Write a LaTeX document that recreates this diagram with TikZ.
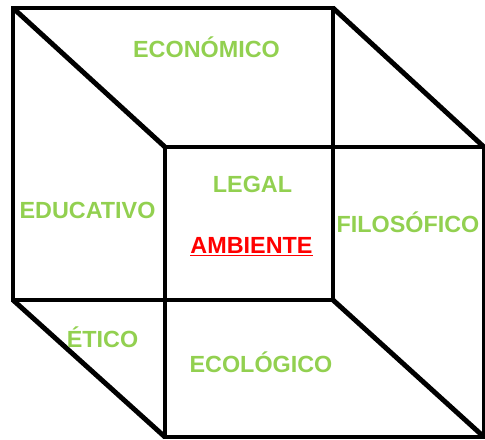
\documentclass[tikz,border=0pt]{standalone}
\usepackage{fontspec}
\setmainfont{Liberation Sans}
\usepackage{tikz}
\usetikzlibrary{positioning}
\definecolor{aspgreen}{RGB}{146,208,80}
\newcommand{\aspect}[3]{
  \node[aspectlabel] (#1) at (#2) {#3};
}
\tikzset{aspectlabel/.style = {anchor=base, inner sep=0pt, text=aspgreen,
                               font=\fontsize{13.3}{16}\selectfont\bfseries}}

\begin{document}
\begin{tikzpicture}[x=0.02cm,y=-0.02cm]
	\useasboundingbox (0,0) rectangle (485,440);
	% back face
	\coordinate (B1) at (13,8);
	\coordinate (B2) at (333,8);
	\coordinate (B3) at (333,300);
	\coordinate (B4) at (13,300);
	% front face
	\coordinate (F1) at (165,147);
	\coordinate (F2) at (484,147);
	\coordinate (F3) at (484,437);
	\coordinate (F4) at (165,437);
	\tikzstyle{EdgeStyle}=[line width=2.8pt, black]
	\draw[EdgeStyle] (B1) -- (B2) -- (B3) -- (B4) -- cycle;
	\draw[EdgeStyle] (F1) -- (F2) -- (F3) -- (F4) -- cycle;
	\draw[EdgeStyle] (B1) -- (F1);
	\draw[EdgeStyle] (B2) -- (F2);
	\draw[EdgeStyle] (B3) -- (F3);
	\draw[EdgeStyle] (B4) -- (F4);
	\aspect{eco}{206.5,57}{ECONÓMICO}
	\aspect{leg}{252.5,192}{LEGAL}
	\aspect{edu}{87.5,218}{EDUCATIVO}
	\aspect{fil}{408,232}{FILOSÓFICO}
	\aspect{eti}{102.5,347}{ÉTICO}
	\aspect{ecl}{261,372}{ECOLÓGICO}
	\node[aspectlabel, text=red] (amb) at (251.5,253) {\underline{AMBIENTE}};
\end{tikzpicture}
\end{document}
